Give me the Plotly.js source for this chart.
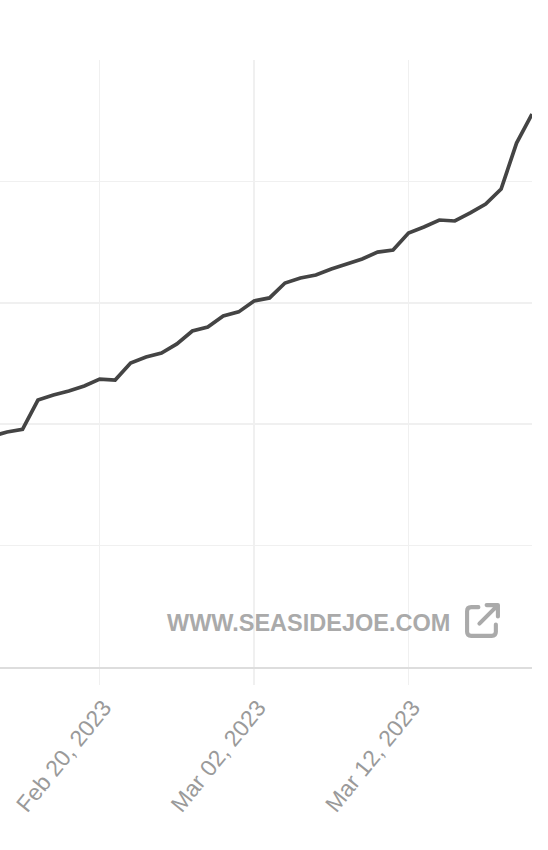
<!DOCTYPE html>
<html>
<head>
<meta charset="utf-8">
<script src="https://cdn.plot.ly/plotly-3.0.1.min.js"></script>
<style>html,body{margin:0;padding:0;background:#fff;}#chart{width:548px;height:850px;}</style>
</head>
<body>
<div id="chart"></div>
<script>
const dates = ["2023-02-13","2023-02-14","2023-02-15","2023-02-16","2023-02-17","2023-02-18","2023-02-19","2023-02-20","2023-02-21","2023-02-22","2023-02-23","2023-02-24","2023-02-25","2023-02-26","2023-02-27","2023-02-28","2023-03-01","2023-03-02","2023-03-03","2023-03-04","2023-03-05","2023-03-06","2023-03-07","2023-03-08","2023-03-09","2023-03-10","2023-03-11","2023-03-12","2023-03-13","2023-03-14","2023-03-15","2023-03-16","2023-03-17","2023-03-18","2023-03-19","2023-03-20"];
const values = [1.90,1.936,1.957,2.199,2.240,2.273,2.315,2.372,2.364,2.504,2.553,2.586,2.661,2.768,2.801,2.891,2.925,3.015,3.040,3.163,3.204,3.229,3.279,3.320,3.361,3.418,3.435,3.575,3.624,3.682,3.674,3.740,3.814,3.937,4.316,4.555];
const xRange = ["2023-02-13 13:00","2023-03-20 00:00"];
const watermark = "WWW.SEASIDEJOE.COM";

const iconSvg = '<svg xmlns="http://www.w3.org/2000/svg" width="36" height="36" viewBox="0 0 36 36">' +
  '<path d="M14 5 H7 Q3 5 3 9 V29 Q3 33 7 33 H27 Q31 33 31 29 V22" fill="none" stroke="#aaaaaa" stroke-width="4" stroke-linecap="round" stroke-linejoin="round"/>' +
  '<path d="M15 21 L33 3 M22 3 H33 V14" fill="none" stroke="#aaaaaa" stroke-width="4" stroke-linecap="round" stroke-linejoin="round"/>' +
  '</svg>';
const iconSrc = 'data:image/svg+xml;base64,' + btoa(iconSvg);

const trace = {
  x: dates, y: values, type: 'scatter', mode: 'lines',
  line: {color: '#444444', width: 3.7},
  hoverinfo: 'skip'
};

const layout = {
  width: 548, height: 850,
  margin: {l: 0, r: 16, t: 60, b: 183, pad: 0},
  paper_bgcolor: '#ffffff', plot_bgcolor: '#ffffff',
  showlegend: false,
  font: {family: 'Liberation Sans, Arial, Helvetica, sans-serif', color: '#9a9a9a'},
  xaxis: {
    type: 'date', range: xRange,
    tick0: '2023-02-20', dtick: 864000000,
    tickformat: '%b %d, %Y', tickangle: -51,
    tickfont: {size: 23, color: '#9a9a9a'},
    ticklabelshift: 4,
    showgrid: true, gridcolor: '#f0f0f0', gridwidth: 1.5,
    ticks: 'outside', ticklen: 16, tickcolor: '#f0f0f0', tickwidth: 1.5,
    showline: true, linecolor: '#dddddd', linewidth: 2,
    zeroline: false, fixedrange: true
  },
  yaxis: {
    range: [0, 5], dtick: 1,
    showticklabels: false,
    showgrid: true, gridcolor: '#f0f0f0', gridwidth: 1.5,
    zeroline: false, showline: false, ticks: '', fixedrange: true
  },
  annotations: [{
    text: watermark, xref: 'paper', yref: 'paper',
    x: 452/532, y: (667-623)/607, xanchor: 'right', yanchor: 'middle',
    showarrow: false,
    font: {family: 'Liberation Sans, Arial, sans-serif', size: 23.5, color: '#aaaaaa', weight: 'bold'}
  }],
  images: [{
    source: iconSrc, xref: 'paper', yref: 'paper',
    x: 464/532, y: (667-602)/607, sizex: 37/532, sizey: 37/607,
    xanchor: 'left', yanchor: 'top', sizing: 'stretch', layer: 'above'
  }]
};

Plotly.newPlot('chart', [trace], layout, {displayModeBar: false, staticPlot: true});
</script>
</body>
</html>
